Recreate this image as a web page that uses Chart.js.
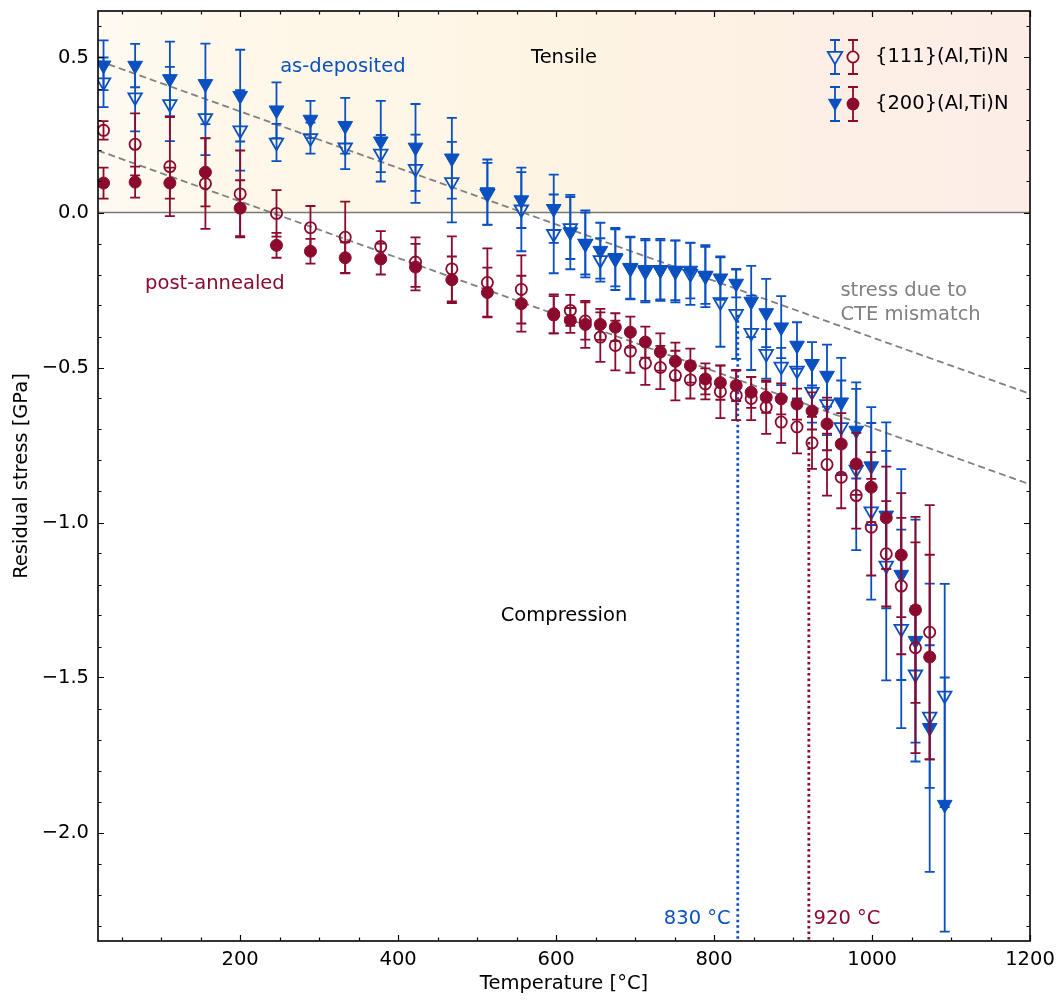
<!DOCTYPE html>
<html>
<head>
<meta charset="utf-8">
<script src="https://cdn.jsdelivr.net/npm/chart.js@4/dist/chart.umd.min.js"></script>
<style>
  html, body { margin: 0; padding: 0; background: #fff; }
</style>
</head>
<body>
<canvas id="chart" width="1058" height="1000"></canvas>
<script>
// Température des mesures [°C]
const temps = [27, 67, 111, 156, 200, 246, 289, 333, 378, 422, 468, 513, 556, 597, 618, 637, 656, 675, 694, 713,
  732, 751, 770, 789, 808, 828, 847, 866, 885, 905, 924, 943, 961, 980, 999, 1018, 1037, 1055, 1073, 1092];

// {200}(Al,Ti)N as-deposited (triangles pleins)
const asDep200 = [0.475, 0.474, 0.431, 0.415, 0.377, 0.33, 0.30, 0.28, 0.23, 0.21, 0.175, 0.066, 0.04, 0.012, -0.063,
  -0.101, -0.123, -0.146, -0.178, -0.185, -0.185, -0.187, -0.187, -0.203, -0.212, -0.229, -0.287, -0.324, -0.37,
  -0.429, -0.488, -0.526, -0.612, -0.703, -0.818, -0.977, -1.168, -1.381, -1.662, -1.91];
const asDep200Err = [0.08, 0.07, 0.12, 0.13, 0.148, 0.09, 0.06, 0.09, 0.13, 0.14, 0.13, 0.105, 0.09, 0.11, 0.12,
  0.108, 0.09, 0.092, 0.1, 0.1, 0.095, 0.096, 0.09, 0.092, 0.07, 0.045, 0.115, 0.11, 0.1, 0.075, 0.07, 0.1, 0.143,
  0.155, 0.19, 0.3, 0.34, 0.39, 0.465, 0.41];

// {111}(Al,Ti)N as-deposited (triangles vides)
const asDep111 = [0.42, 0.372, 0.35, 0.305, 0.265, 0.226, 0.24, 0.21, 0.19, 0.141, 0.098, 0.06, 0.01, -0.069, -0.05,
  -0.1, -0.153, -0.15, -0.18, -0.19, -0.185, -0.19, -0.198, -0.205, -0.289, -0.327, -0.388, -0.456, -0.497, -0.51,
  -0.578, -0.618, -0.692, -0.829, -0.964, -1.139, -1.343, -1.49, -1.626, -1.558];
const asDep111Err = [0.08, 0.11, 0.12, 0.12, 0.13, 0.06, 0.05, 0.07, 0.06, 0.11, 0.13, 0.1, 0.135, 0.127, 0.1, 0.1,
  0.07, 0.1, 0.1, 0.1, 0.1, 0.1, 0.1, 0.1, 0.144, 0.145, 0.12, 0.08, 0.06, 0.09, 0.1, 0.1, 0.15, 0.26, 0.285, 0.37,
  0.32, 0.22, 0.23, 0.36];

// {200}(Al,Ti)N post-annealed (cercles pleins)
const ann200 = [0.095, 0.098, 0.095, 0.13, 0.014, -0.106, -0.125, -0.146, -0.15, -0.176, -0.217, -0.258, -0.294,
  -0.327, -0.348, -0.361, -0.361, -0.37, -0.386, -0.418, -0.45, -0.48, -0.494, -0.537, -0.549, -0.558, -0.58, -0.596,
  -0.601, -0.618, -0.64, -0.682, -0.747, -0.811, -0.886, -0.985, -1.105, -1.282, -1.434, null];
const ann200Err = [0.05, 0.05, 0.05, 0.11, 0.09, 0.04, 0.04, 0.05, 0.05, 0.075, 0.075, 0.08, 0.09, 0.063, 0.04,
  0.076, 0.05, 0.045, 0.05, 0.05, 0.06, 0.06, 0.055, 0.05, 0.055, 0.05, 0.05, 0.05, 0.05, 0.05, 0.06, 0.085, 0.1,
  0.1, 0.113, 0.165, 0.2, 0.3, 0.33, null];

// {111}(Al,Ti)N post-annealed (cercles vides)
const ann111 = [0.265, 0.22, 0.148, 0.093, 0.06, -0.003, -0.049, -0.08, -0.11, -0.16, -0.182, -0.226, -0.248, -0.33,
  -0.316, -0.35, -0.402, -0.429, -0.447, -0.486, -0.5, -0.526, -0.54, -0.553, -0.578, -0.59, -0.6, -0.628, -0.676,
  -0.692, -0.743, -0.813, -0.854, -0.913, -1.015, -1.101, -1.205, -1.404, -1.354, null];
const ann111Err = [0.03, 0.1, 0.16, 0.146, 0.14, 0.075, 0.07, 0.115, 0.05, 0.08, 0.105, 0.11, 0.11, 0.06, 0.05,
  0.06, 0.08, 0.08, 0.07, 0.07, 0.07, 0.08, 0.06, 0.05, 0.085, 0.08, 0.07, 0.086, 0.067, 0.085, 0.084, 0.1, 0.1,
  0.107, 0.156, 0.17, 0.22, 0.34, 0.41, null];

// Droites "stress due to CTE mismatch"
const cteX = [20, 1200];
const cteAsDep = [0.49, -0.585];
const cteAnn = [0.20, -0.877];

// Températures de début de relaxation (lignes pointillées)
const onsetTemps = [830, 920];
const onsetTop = [-0.33, -0.74];
const onsetLabels = ['830 °C', '920 °C'];

const xTickVals = [200, 400, 600, 800, 1000, 1200];
const yTickVals = [-2.0, -1.5, -1.0, -0.5, 0.0, 0.5];
const xRange = [20, 1200];
const yRange = [-2.35, 0.65];

const BLUE = '#0a50c0';
const RED = '#8b0a2d';
const GREY = '#808080';
const FONT = '"DejaVu Sans", sans-serif';
const FS = 19.5;

function points(vals, errs) {
  const out = [];
  temps.forEach((t, i) => {
    if (vals[i] !== null) out.push({ x: t, y: vals[i], e: errs[i] });
  });
  return out;
}

function fmt(v) {
  return v < 0 ? '\u2212' + Math.abs(v).toFixed(1) : v.toFixed(1);
}

// Barres d'erreur, dessinées sous les marqueurs de chaque série
const errorBars = {
  id: 'errorBars',
  beforeDatasetDraw(chart, args) {
    const ds = chart.data.datasets[args.index];
    if (!ds.hasErrors) return;
    const { ctx, scales: { y } } = chart;
    ctx.save();
    ctx.strokeStyle = ds.borderColor;
    ctx.lineWidth = 1.8;
    args.meta.data.forEach((pt, i) => {
      const d = ds.data[i];
      const yt = y.getPixelForValue(d.y + d.e);
      const yb = y.getPixelForValue(d.y - d.e);
      ctx.beginPath();
      ctx.moveTo(pt.x, yt); ctx.lineTo(pt.x, yb);
      ctx.moveTo(pt.x - 5, yt); ctx.lineTo(pt.x + 5, yt);
      ctx.moveTo(pt.x - 5, yb); ctx.lineTo(pt.x + 5, yb);
      ctx.stroke();
    });
    ctx.restore();
  }
};

// Fond de la zone "Tensile", cadre et graduations vers l'intérieur
const frame = {
  id: 'frame',
  beforeDatasetsDraw(chart) {
    const { ctx, chartArea: a, scales: { y } } = chart;
    const y0 = y.getPixelForValue(0);
    const g = ctx.createLinearGradient(a.left, 0, a.right, 0);
    g.addColorStop(0, '#fefaf2');
    g.addColorStop(0.15, '#fef8ea');
    g.addColorStop(0.35, '#fef6e6');
    g.addColorStop(0.55, '#fdf3e3');
    g.addColorStop(0.73, '#fdf1e4');
    g.addColorStop(0.76, '#fdefe6');
    g.addColorStop(1, '#fdede7');
    ctx.save();
    ctx.fillStyle = g;
    ctx.fillRect(a.left, a.top, a.right - a.left, y0 - a.top);
    ctx.restore();
  },
  afterDraw(chart) {
    const { ctx, chartArea: a, scales: { x, y } } = chart;
    ctx.save();
    ctx.strokeStyle = '#000';
    ctx.lineWidth = 1.2;
    ctx.beginPath();
    for (let v = 50; v <= xRange[1]; v += 50) {
      if (v < xRange[0]) continue;
      const px = Math.round(x.getPixelForValue(v)) + 0.5;
      const len = v % 200 === 0 ? 6 : 3.5;
      ctx.moveTo(px, a.bottom); ctx.lineTo(px, a.bottom - len);
      ctx.moveTo(px, a.top); ctx.lineTo(px, a.top + len);
    }
    for (let k = -23; k <= 6; k++) {
      const v = k / 10;
      const py = Math.round(y.getPixelForValue(v)) + 0.5;
      const len = k % 5 === 0 ? 6 : 3.5;
      ctx.moveTo(a.left, py); ctx.lineTo(a.left + len, py);
      ctx.moveTo(a.right, py); ctx.lineTo(a.right - len, py);
    }
    ctx.stroke();
    ctx.lineWidth = 1.6;
    ctx.strokeRect(a.left, a.top, a.right - a.left, a.bottom - a.top);
    ctx.restore();
  }
};

// Textes dans le graphique et légende
const notes = {
  id: 'notes',
  afterDatasetsDraw(chart) {
    const { ctx, chartArea: a, scales: { x, y } } = chart;
    const put = (txt, tx, ty, color, align) => {
      ctx.fillStyle = color;
      ctx.textAlign = align;
      ctx.fillText(txt, x.getPixelForValue(tx), y.getPixelForValue(ty));
    };
    ctx.save();
    ctx.font = FS + 'px ' + FONT;
    ctx.textBaseline = 'middle';
    put('Tensile', 610, 0.5, '#000', 'center');
    put('Compression', 610, -1.3, '#000', 'center');
    put('as-deposited', 330, 0.47, BLUE, 'center');
    put('post-annealed', 168, -0.23, RED, 'center');
    put('stress due to', 960, -0.252, GREY, 'left');
    put('CTE mismatch', 960, -0.33, GREY, 'left');
    put(onsetLabels[0], onsetTemps[0] - 9, -2.28, BLUE, 'right');
    put(onsetLabels[1], onsetTemps[1] + 6, -2.28, RED, 'left');

    // légende
    const rows = [{ label: '{111}(Al,Ti)N', open: true, cy: a.top + 46 },
                  { label: '{200}(Al,Ti)N', open: false, cy: a.top + 93 }];
    const bx = a.right - 195, rx = a.right - 177;
    rows.forEach(r => {
      ctx.lineWidth = 1.8;
      [[bx, BLUE], [rx, RED]].forEach(([cx, c]) => {
        ctx.strokeStyle = c;
        ctx.beginPath();
        ctx.moveTo(cx, r.cy - 17); ctx.lineTo(cx, r.cy + 17);
        ctx.moveTo(cx - 5, r.cy - 17); ctx.lineTo(cx + 5, r.cy - 17);
        ctx.moveTo(cx - 5, r.cy + 17); ctx.lineTo(cx + 5, r.cy + 17);
        ctx.stroke();
      });
      // triangle
      const tr = 8.3, ty = r.cy - 1;
      ctx.beginPath();
      ctx.moveTo(bx, ty + tr);
      ctx.lineTo(bx - tr * 0.866, ty - tr / 2);
      ctx.lineTo(bx + tr * 0.866, ty - tr / 2);
      ctx.closePath();
      if (r.open) { ctx.fillStyle = '#fdf0e6'; ctx.fill(); ctx.strokeStyle = BLUE; ctx.stroke(); }
      else { ctx.fillStyle = BLUE; ctx.fill(); }
      // cercle
      ctx.beginPath();
      ctx.arc(rx, r.cy, r.open ? 5.6 : 6.4, 0, Math.PI * 2);
      if (r.open) { ctx.fillStyle = '#fdf0e6'; ctx.fill(); ctx.strokeStyle = RED; ctx.stroke(); }
      else { ctx.fillStyle = RED; ctx.fill(); }
      ctx.fillStyle = '#000';
      ctx.textAlign = 'left';
      ctx.fillText(r.label, a.right - 155, r.cy);
    });
    ctx.restore();
  }
};

const lineDs = (data, color, dash, width, order) => ({
  data, borderColor: color, borderDash: dash, borderWidth: width,
  showLine: true, pointRadius: 0, fill: false, order
});

const datasets = [
  {
    label: '{200}(Al,Ti)N post-annealed', data: points(ann200, ann200Err), hasErrors: true,
    borderColor: RED, backgroundColor: RED, pointStyle: 'circle', pointRadius: 6, borderWidth: 1, order: 0
  },
  {
    label: '{111}(Al,Ti)N post-annealed', data: points(ann111, ann111Err), hasErrors: true,
    borderColor: RED, backgroundColor: 'rgba(0,0,0,0)', pointStyle: 'circle', pointRadius: 5.6, borderWidth: 1.8, order: 1
  },
  {
    label: '{200}(Al,Ti)N as-deposited', data: points(asDep200, asDep200Err), hasErrors: true,
    borderColor: BLUE, backgroundColor: BLUE, pointStyle: 'triangle', pointRotation: 180, pointRadius: 8.5, borderWidth: 1, order: 2
  },
  {
    label: '{111}(Al,Ti)N as-deposited', data: points(asDep111, asDep111Err), hasErrors: true,
    borderColor: BLUE, backgroundColor: 'rgba(0,0,0,0)', pointStyle: 'triangle', pointRotation: 180, pointRadius: 7.8, borderWidth: 1.8, order: 3
  },
  lineDs([{ x: onsetTemps[0], y: onsetTop[0] }, { x: onsetTemps[0], y: yRange[0] }], BLUE, [2.5, 3], 2.8, 4),
  lineDs([{ x: onsetTemps[1], y: onsetTop[1] }, { x: onsetTemps[1], y: yRange[0] }], RED, [2.5, 3], 2.8, 4),
  lineDs(cteX.map((t, i) => ({ x: t, y: cteAsDep[i] })), GREY, [7, 4], 1.8, 5),
  lineDs(cteX.map((t, i) => ({ x: t, y: cteAnn[i] })), GREY, [7, 4], 1.8, 5),
  lineDs([{ x: xRange[0], y: 0 }, { x: xRange[1], y: 0 }], '#777777', [], 1.5, 6)
];

Chart.defaults.font.family = FONT;
Chart.defaults.font.size = FS;
Chart.defaults.color = '#000';

new Chart(document.getElementById('chart'), {
  type: 'scatter',
  data: { datasets },
  options: {
    responsive: false,
    animation: false,
    layout: { padding: { top: 11, right: 28, left: 0, bottom: 0 } },
    plugins: { legend: { display: false }, tooltip: { enabled: false } },
    scales: {
      x: {
        type: 'linear', min: xRange[0], max: xRange[1],
        grid: { display: false, drawTicks: false }, border: { display: false },
        ticks: { padding: 7, maxRotation: 0, callback: v => String(v) },
        afterBuildTicks: s => { s.ticks = xTickVals.map(v => ({ value: v })); },
        afterFit: s => { s.height = 59; s.paddingLeft = 0; s.paddingRight = 0; },
        title: { display: true, text: 'Temperature [°C]', padding: { top: 0, bottom: 4 } }
      },
      y: {
        type: 'linear', min: yRange[0], max: yRange[1],
        grid: { display: false, drawTicks: false }, border: { display: false },
        ticks: { padding: 9, callback: v => fmt(v) },
        afterBuildTicks: s => { s.ticks = yTickVals.map(v => ({ value: v })); },
        afterFit: s => { s.width = 98; s.paddingTop = 0; s.paddingBottom = 0; },
        title: { display: true, text: 'Residual stress [GPa]', padding: { top: 10, bottom: 0 } }
      }
    }
  },
  plugins: [frame, errorBars, notes]
});
</script>
</body>
</html>
